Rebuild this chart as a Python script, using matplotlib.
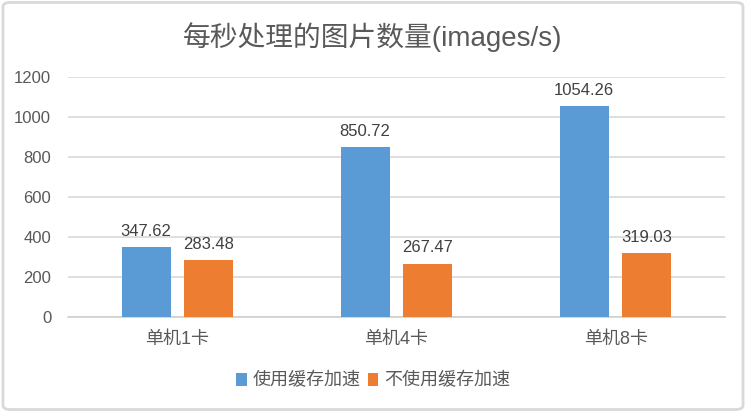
import numpy as np
import matplotlib
matplotlib.use("Agg")
import matplotlib.pyplot as plt
from matplotlib.patches import FancyBboxPatch

plt.rcParams['font.family'] = ['Liberation Sans', 'Noto Sans CJK SC']

# Données
categories = ["单机1卡", "单机4卡", "单机8卡"]
avec_cache = [347.62, 850.72, 1054.26]
sans_cache = [283.48, 267.47, 319.03]
noms_series = ["使用缓存加速", "不使用缓存加速"]

bleu = "#5B9BD5"
orange = "#ED7D31"
gris_texte = "#595959"

fig = plt.figure(figsize=(7.46, 4.12), dpi=100)
ax = fig.add_axes([0.091, 0.2306, 0.881, 0.5825])

x = np.arange(len(categories))
larg = 0.224
b1 = ax.bar(x - 0.143, avec_cache, larg, color=bleu, label=noms_series[0], zorder=3)
b2 = ax.bar(x + 0.143, sans_cache, larg, color=orange, label=noms_series[1], zorder=3)

for barres in (b1, b2):
    for b in barres:
        h = b.get_height()
        ax.annotate(f"{h:.2f}", (b.get_x() + b.get_width() / 2, h),
                    xytext=(0, 6), textcoords="offset points",
                    ha="center", va="bottom", fontsize=12, color="#404040")

ax.set_xlim(-0.5, 2.5)
ax.set_ylim(0, 1200)
ax.set_yticks(range(0, 1201, 200))
ax.set_xticks(x)
ax.set_xticklabels(categories)
ax.tick_params(axis="both", length=0, labelsize=12, colors=gris_texte)
ax.tick_params(axis="x", labelsize=13, pad=10)
ax.tick_params(axis="y", pad=12)
ax.grid(axis="y", color="#D9D9D9", linewidth=1.2, zorder=0)
for s in ("top", "right", "left"):
    ax.spines[s].set_visible(False)
ax.spines["bottom"].set_color("#D0D0D0")
ax.spines["bottom"].set_linewidth(1.2)

fig.text(0.5, 0.91, "每秒处理的图片数量(images/s)", ha="center", va="center",
         fontsize=20, color=gris_texte)

fig.legend(loc="center", bbox_to_anchor=(0.5, 0.075), ncol=2, frameon=False,
           fontsize=13, handlelength=0.6, handleheight=0.7, handletextpad=0.3,
           columnspacing=0.4, labelcolor=gris_texte)

cadre = FancyBboxPatch((0.004, 0.006), 0.992, 0.988,
                       boxstyle="round,pad=0,rounding_size=0.01",
                       transform=fig.transFigure, fill=False,
                       edgecolor="#D9D9D9", linewidth=2)
fig.patches.append(cadre)

fig.savefig("out.png", dpi=100)
